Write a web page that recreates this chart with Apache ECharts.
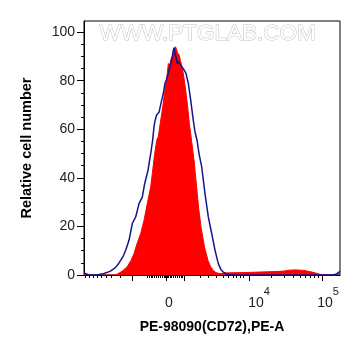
<!DOCTYPE html>
<html>
<head>
<meta charset="utf-8">
<script src="https://cdn.jsdelivr.net/npm/echarts@6/dist/echarts.min.js"></script>
<style>
  html, body { margin: 0; padding: 0; background: #fff; }
  #chart { width: 361px; height: 356px; }
</style>
</head>
<body>
<div id="chart"></div>
<script>
// x values are display channels (0-256) of the logicle PE-A scale, y is % of max
let stained = [
  [0, 0.8], [3, 0], [30, 0], [33, 0.3], [38, 1.5], [43, 3.3], [47, 6], [50, 8.8],
  [53, 12.9], [56.7, 17.1], [60, 22.5], [63.3, 29.4], [66.7, 36.3], [68.3, 41.8],
  [70.7, 50], [72.7, 55.5], [74.3, 57], [77.7, 66.5], [79, 70], [81, 76.1],
  [83.3, 83], [84.3, 87.1], [85.5, 86], [86.7, 88.5], [88, 88], [89.3, 91.2],
  [90.5, 92], [91.5, 94], [92.5, 93], [93.5, 91.5], [95.3, 90.5], [96.5, 88],
  [97.7, 86.4], [99.3, 83], [101.7, 76.1], [103.7, 69.2], [105.3, 62.4],
  [107.5, 55.5], [110, 47.3], [112, 39], [114.5, 28], [117, 19.8], [120.5, 11.5],
  [124, 6], [126.5, 3.5], [129.3, 1.9], [132, 1], [136, 0.5], [140, 0.8],
  [146, 0.9], [160, 1], [175, 1.2], [190, 1.4], [200, 1.6], [205, 2], [212, 2.1],
  [220, 1.9], [228, 1.2], [236, 0.3], [240, 0], [252, 0], [256, 0.8]
];
let control = [
  [0, 0.8], [2, 0.3], [5, 0], [13, 0], [20, 0.6], [26, 1.5], [30, 2.6], [33, 3.8],
  [36.7, 6], [39.5, 8], [41.7, 10.2], [45, 14.3], [48.3, 21.2], [51.7, 23.9],
  [55, 29.4], [58.3, 32.1], [60.7, 37.7], [64, 43.1], [66.7, 50], [68.5, 55],
  [70, 61], [71, 63.5], [72.7, 66], [75, 67], [77.7, 72], [79, 74], [81, 78.9],
  [82.5, 80.5], [84.3, 83], [86.7, 87.1], [88, 89], [89.3, 92.6], [90.3, 93.7],
  [91, 91], [92, 89.8], [93.3, 87], [94.3, 88], [95.3, 87.8], [96.5, 86.5],
  [97.7, 86.4], [99.3, 85], [102, 83], [104.3, 78.9], [106.7, 72], [109.3, 63.7],
  [111, 59], [113, 55.5], [115, 50], [117.7, 44.5], [121, 33.5], [124.3, 23.9],
  [127.7, 17.1], [131, 10.2], [134.3, 4.7], [137, 2.2], [139.3, 1.2], [143, 0.4],
  [147.7, 0], [248, 0], [252, 0.3], [256, 1.5]
];

// axis ticks (x in display channels)
let xMajorTicks = [48.7, 82, 100, 165, 238];
let xMinorTicks = [1, 5.3, 9.3, 13.3, 17.7, 22.7, 27.7, 36,
  63, 64.9, 66.8, 68.7, 70.6, 72.5, 74.4, 76.3, 78.2, 80.1, 81.2, 82.8, 83.9,
  85.8, 87.7, 89.6, 91.5, 93.4, 95.3, 97.2, 98.6,
  116, 124.3, 132.7, 139.3, 144.3, 149.3, 152.7, 156, 159.3,
  187.5, 200, 209, 216, 221.6, 226.5, 230.7, 234.4];
let xLabelPos = [85, 175, 244];
let xLabels = ['{b|0}', '{b|10}{s|4}', '{b|10}{s|5}'];
let yMajorTicks = [0, 20, 40, 60, 80, 100];
let yMinorTicks = [5, 10, 15, 25, 30, 35, 45, 50, 55, 65, 70, 75, 85, 90, 95];

let font = '"Liberation Sans", Arial, sans-serif';
let chart = echarts.init(document.getElementById('chart'), null, { renderer: 'canvas' });

let option = {
  animation: false,
  backgroundColor: '#fff',
  grid: {
    left: 84, right: 21, top: 21, bottom: 81,
    show: true, borderColor: '#000', borderWidth: 1, backgroundColor: 'transparent'
  },
  graphic: [{
    type: 'text',
    left: 99,
    top: 22,
    z: 1,
    style: {
      text: 'WWW.PTGLAB.COM',
      font: '22.5px ' + font,
      fill: '#ffffff',
      stroke: '#c2c2c2',
      lineWidth: 1
    }
  }],
  xAxis: [{
    type: 'value',
    min: 0, max: 256,
    position: 'bottom',
    name: 'PE-98090(CD72),PE-A',
    nameLocation: 'middle',
    nameGap: 45,
    nameTextStyle: { fontFamily: font, fontSize: 14, fontWeight: 'bold', color: '#000' },
    axisLine: { show: true, lineStyle: { color: '#000', width: 1 } },
    axisTick: { show: true, length: 6, customValues: xMajorTicks, lineStyle: { color: '#000' } },
    axisLabel: {
      show: true,
      customValues: xLabelPos,
      margin: 11,
      formatter: function (value) {
        let i = xLabelPos.findIndex(p => Math.abs(p - value) < 0.01);
        return i < 0 ? '' : xLabels[i];
      },
      rich: {
        b: { fontFamily: font, fontSize: 14, color: '#222', lineHeight: 24, verticalAlign: 'bottom' },
        s: { fontFamily: font, fontSize: 11, color: '#222', lineHeight: 12, verticalAlign: 'top' }
      }
    },
    splitLine: { show: false }
  }, {
    type: 'value',
    min: 0, max: 256,
    position: 'bottom',
    axisLine: { show: false },
    axisTick: { show: true, length: 3, customValues: xMinorTicks, lineStyle: { color: '#000' } },
    axisLabel: { show: false },
    splitLine: { show: false }
  }],
  yAxis: [{
    type: 'value',
    min: 0, max: 104.6,
    position: 'left',
    name: 'Relative cell number',
    nameLocation: 'middle',
    nameGap: 50,
    nameTextStyle: { fontFamily: font, fontSize: 14.5, fontWeight: 'bold', color: '#000' },
    axisLine: { show: true, lineStyle: { color: '#000', width: 1 } },
    axisTick: { show: true, length: 7, customValues: yMajorTicks, lineStyle: { color: '#000' } },
    axisLabel: {
      show: true,
      customValues: yMajorTicks,
      margin: 9,
      fontFamily: font,
      fontSize: 14,
      color: '#222'
    },
    splitLine: { show: false }
  }, {
    type: 'value',
    min: 0, max: 104.6,
    position: 'left',
    axisLine: { show: false },
    axisTick: { show: true, length: 3, customValues: yMinorTicks, lineStyle: { color: '#000' } },
    axisLabel: { show: false },
    splitLine: { show: false }
  }],
  series: [{
    name: 'stained',
    type: 'line',
    data: stained,
    showSymbol: false,
    symbol: 'none',
    lineStyle: { color: '#ff0000', width: 1 },
    areaStyle: { color: '#ff0000', opacity: 1 },
    z: 2
  }, {
    name: 'control',
    type: 'line',
    data: control,
    showSymbol: false,
    symbol: 'none',
    lineStyle: { color: '#16168c', width: 1.5 },
    z: 3
  }]
};

chart.setOption(option);
</script>
</body>
</html>
